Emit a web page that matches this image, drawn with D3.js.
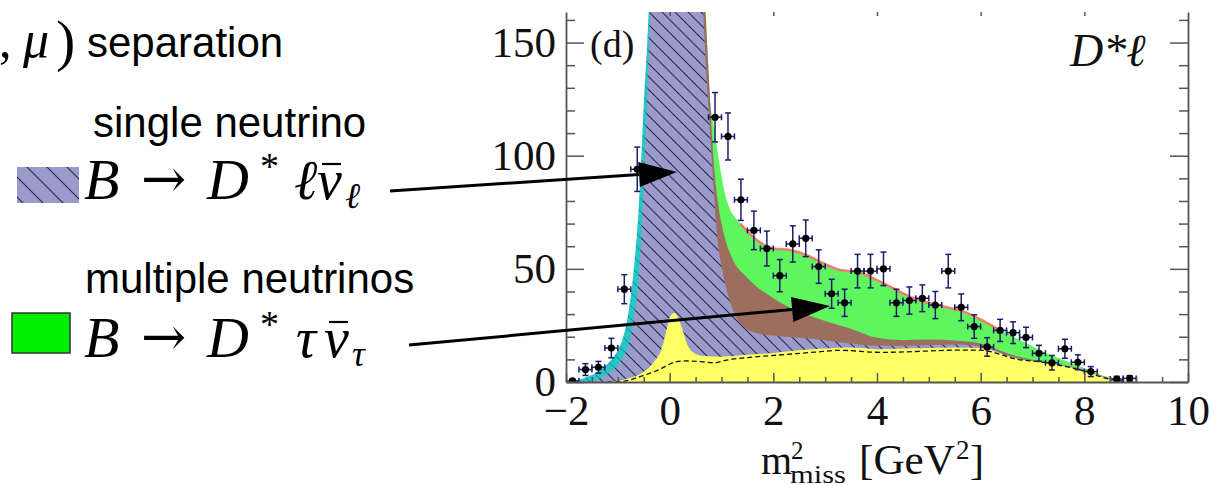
<!DOCTYPE html>
<html>
<head>
<meta charset="utf-8">
<script src="https://cdn.jsdelivr.net/npm/d3@7"></script>
<style>
  body { margin: 0; background: #fff; }
  svg { display: block; }
  .serif { font-family: "Liberation Serif", "Times New Roman", serif; }
  .sans { font-family: "Liberation Sans", Arial, sans-serif; }
</style>
</head>
<body>
<svg id="chart" width="1215" height="485"></svg>
<script>
// measured m^2_miss points (bin centres in GeV^2), events per bin and errors
const binCenters = [-1.875, -1.625, -1.375, -1.125, -0.875, -0.625, 0.875, 1.125, 1.375, 1.625,
  1.875, 2.125, 2.375, 2.625, 2.875, 3.125, 3.375, 3.625, 3.875, 4.125, 4.375, 4.625, 4.875,
  5.125, 5.375, 5.625, 5.875, 6.125, 6.375, 6.625, 6.875, 7.125, 7.375, 7.625, 7.875, 8.125,
  8.625, 8.875];
const counts = [0.5, 5.5, 6.5, 15, 41, 94, 117, 108.5, 80.5, 67, 59, 47, 61, 63.5, 51, 39, 35,
  49, 49, 50, 35, 36, 37, 34, 49, 33, 24.5, 15.5, 22.8, 21.8, 19.7, 12.7, 8.5, 14.7, 8.7, 4.6,
  1.3, 1.6];
const countErr = [0.7, 2.6, 2.6, 4.3, 6.4, 9.8, 10.9, 10.4, 9.1, 8.5, 7.7, 7.1, 8, 8.1, 7.4,
  6.4, 6, 7.4, 7.4, 7.4, 6, 6, 5.9, 6, 7.4, 5.9, 5.2, 4.1, 4.9, 4.8, 4.5, 3.5, 3.2, 4.2, 3.3,
  2.2, 1.2, 1.2];
const binHalfWidth = 0.125;

// stacked fit: cumulative top edge of each component [m2miss, events]
const greenTop = [[0.55, 240], [0.7, 163], [0.76, 130], [0.86, 112], [0.97, 95], [1.1, 80.4],
  [1.36, 70], [1.68, 62.7], [2.0, 59], [2.32, 58.3], [2.64, 56.1], [2.96, 52.5], [3.29, 49.5],
  [3.61, 48.7], [3.93, 45.8], [4.25, 42.1], [4.7, 37], [5.34, 33], [5.67, 31.1], [5.99, 27.7],
  [6.31, 23.7], [6.63, 20], [6.95, 16.3], [7.27, 12.7], [7.6, 9.7], [7.92, 6.8], [8.24, 3.8],
  [8.56, 1.6], [9.0, 0]];
const brownTop = [[0.55, 230], [0.69, 163], [0.75, 138], [0.84, 100], [0.94, 78], [1.03, 67],
  [1.2, 55], [1.5, 46], [2.0, 37], [2.5, 31], [3.0, 27], [3.5, 23.5], [4.0, 19.5], [4.5, 18.5],
  [5.0, 18.8], [5.5, 18.3], [6.0, 17], [6.2, 15.5], [6.6, 12], [7.0, 9.8], [7.5, 8], [8.0, 5.5],
  [8.5, 1.5], [9.0, 0]];
const cyanTop = [[-2, 0], [-1.8, 0.7], [-1.6, 2.2], [-1.4, 4.2], [-1.2, 8], [-1.0, 14],
  [-0.9, 19.5], [-0.8, 30], [-0.7, 48], [-0.6, 76], [-0.5, 122], [-0.4, 168], [-0.3, 260]];
const purpleTop = [[-1.75, 0], [-1.6, 0.2], [-1.4, 1.0], [-1.2, 3.5], [-1.0, 7.5], [-0.9, 11],
  [-0.8, 16], [-0.7, 27], [-0.6, 45], [-0.5, 88], [-0.4, 148], [-0.3, 230], [0, 400],
  [0.4, 260], [0.6, 190], [0.65, 163], [0.71, 135], [0.78, 110], [0.85, 85], [0.91, 66],
  [1.03, 48], [1.16, 36], [1.36, 26], [1.68, 21.5], [2.0, 20.5], [2.5, 19.5], [3.0, 18.5],
  [3.5, 17], [4.0, 16], [4.5, 16], [5.0, 16.4], [5.5, 16.6], [6.0, 15.8], [6.2, 14.6],
  [6.6, 11.2], [7.0, 9.4], [7.5, 7.7], [8.0, 5.2], [8.5, 1.4], [9.0, 0]];
const yellowTop = [[-1.3, 0], [-1.0, 0.4], [-0.8, 1.5], [-0.5, 4.5], [-0.3, 9], [-0.15, 15],
  [-0.05, 24], [0.0, 28.5], [0.08, 30.5], [0.15, 29], [0.25, 23], [0.35, 16], [0.45, 13.2],
  [0.65, 11.5], [1.0, 11.2], [1.5, 12], [2.0, 12.8], [2.5, 14], [3.0, 14.8], [3.5, 15.2],
  [4.0, 14.5], [4.5, 14.8], [5.0, 15], [5.5, 15.3], [6.0, 15], [6.2, 14], [6.6, 10.8],
  [7.0, 9.2], [7.5, 7.5], [8.0, 5], [8.5, 1.3], [9.0, 0]];
const dashedLine = [[-1.2, 0], [-0.9, 0.3], [-0.57, 2.4], [-0.2, 5.5], [0.1, 8.8], [0.3, 9.3],
  [0.6, 9.0], [0.85, 8.5], [1.1, 9.7], [1.5, 10.8], [2.1, 11.9], [2.8, 13.2], [3.3, 14],
  [4.06, 13.1], [5.0, 13.7], [5.5, 14.1], [6.0, 14.1], [6.2, 13.4], [6.63, 10.4], [7.27, 8.5],
  [7.92, 5.3], [8.56, 0.9], [8.94, 0]];

const xTicks = [-2, 0, 2, 4, 6, 8, 10];
const yTicks = [0, 50, 100, 150];

const svg = d3.select("#chart");
svg.append("rect").attr("width", 1215).attr("height", 485).attr("fill", "#fff");

const x = d3.scaleLinear().domain([-2, 10]).range([566, 1188]);
const y = d3.scaleLinear().domain([0, 163.5]).range([382, 12]);

const defs = svg.append("defs");
defs.append("clipPath").attr("id", "plot-clip")
  .append("rect").attr("x", 566).attr("y", 12).attr("width", 622).attr("height", 370);

// hatching for the single-neutrino component
function hatch(id, s, w) {
  defs.append("pattern").attr("id", id).attr("patternUnits", "userSpaceOnUse")
    .attr("width", s).attr("height", s)
    .append("path")
    .attr("d", `M0,0L${s},${s}M${-s/2},${s/2}L${s/2},${s*1.5}M${s/2},${-s/2}L${s*1.5},${s/2}`)
    .attr("stroke", "#2a2a4e").attr("stroke-width", w);
}
hatch("hatch", 13, 1.1);
hatch("hatch-legend", 20, 1.2);

const area = d3.area()
  .x(d => x(d[0]))
  .y0(y(0))
  .y1(d => y(d[1]))
  .curve(d3.curveMonotoneX);
const line = d3.line()
  .x(d => x(d[0]))
  .y(d => y(d[1]))
  .curve(d3.curveMonotoneX);

const plot = svg.append("g").attr("clip-path", "url(#plot-clip)");

plot.append("path").datum(greenTop).attr("d", area).attr("fill", "#5ef55e");
plot.append("path").datum(brownTop).attr("d", area).attr("fill", "#9b6e5d");
plot.append("path").datum(cyanTop).attr("d", area).attr("fill", "#25c8c8");
plot.append("path").datum(cyanTop).attr("d", area).attr("fill", "url(#hatch)").attr("opacity", 0.35);
plot.append("path").datum(purpleTop).attr("d", area).attr("fill", "#9a9acb");
plot.append("path").datum(purpleTop).attr("d", area).attr("fill", "url(#hatch)");
plot.append("path").datum(yellowTop).attr("d", area).attr("fill", "#ffff66");
plot.append("path").datum(dashedLine).attr("d", line)
  .attr("fill", "none").attr("stroke", "#111").attr("stroke-width", 1.3)
  .attr("stroke-dasharray", "5,3");
plot.append("path").datum(greenTop.filter(d => d[0] > 1.3 && d[0] < 6.6)).attr("d", line)
  .attr("fill", "none").attr("stroke", "#f07c6c").attr("stroke-width", 2.5);

// data points with error bars
const pts = binCenters.map((c, i) => ({ c, v: counts[i], e: countErr[i] }));
const bars = plot.append("g").attr("stroke", "#1c1c6b").attr("stroke-width", 1.5);
bars.selectAll(".ev").data(pts).join("line")
  .attr("x1", d => x(d.c)).attr("x2", d => x(d.c))
  .attr("y1", d => y(d.v - d.e)).attr("y2", d => y(d.v + d.e));
bars.selectAll(".eh").data(pts).join("line")
  .attr("x1", d => x(d.c - binHalfWidth)).attr("x2", d => x(d.c + binHalfWidth))
  .attr("y1", d => y(d.v)).attr("y2", d => y(d.v));
[-1, 1].forEach(s => {
  bars.selectAll(null).data(pts).join("line")
    .attr("x1", d => x(d.c) - 3).attr("x2", d => x(d.c) + 3)
    .attr("y1", d => y(d.v + s * d.e)).attr("y2", d => y(d.v + s * d.e));
  bars.selectAll(null).data(pts).join("line")
    .attr("x1", d => x(d.c + s * binHalfWidth)).attr("x2", d => x(d.c + s * binHalfWidth))
    .attr("y1", d => y(d.v) - 3).attr("y2", d => y(d.v) + 3);
});
plot.append("g").selectAll("circle").data(pts).join("circle")
  .attr("cx", d => x(d.c)).attr("cy", d => y(d.v)).attr("r", 3.6).attr("fill", "#000");

// axes
const xMinor = d3.range(-1.5, 10, 0.5).filter(v => v % 2 !== 0);
const yMinor = d3.range(10, 161, 10).filter(v => v % 50 !== 0);
const fmt = d3.format("d");

function styleAxis(g) {
  g.attr("color", "#555");
  g.selectAll("line").attr("stroke-width", 1.5);
  g.select(".domain").attr("stroke-width", 1.8);
  g.selectAll("text").attr("class", "serif").attr("font-size", 43).attr("fill", "#111");
}

svg.append("g").attr("transform", `translate(${x(-2)},0)`)
  .call(d3.axisLeft(y).tickValues(yTicks).tickSize(-18).tickSizeOuter(0).tickPadding(10).tickFormat(fmt))
  .call(styleAxis);
svg.append("g").attr("transform", `translate(${x(-2)},0)`)
  .call(d3.axisLeft(y).tickValues(yMinor).tickSize(-9).tickFormat(""))
  .call(g => g.select(".domain").remove()).call(styleAxis);
svg.append("g").attr("transform", `translate(${x(10)},0)`)
  .call(d3.axisRight(y).tickValues(yTicks).tickSize(-18).tickSizeOuter(0).tickFormat(""))
  .call(styleAxis);
svg.append("g").attr("transform", `translate(${x(10)},0)`)
  .call(d3.axisRight(y).tickValues(yMinor).tickSize(-9).tickFormat(""))
  .call(g => g.select(".domain").remove()).call(styleAxis);
svg.append("g").attr("transform", `translate(0,${y(0)})`)
  .call(d3.axisBottom(x).tickValues(xTicks).tickSize(-9).tickSizeOuter(0).tickPadding(12).tickFormat(fmt))
  .call(styleAxis);
svg.append("g").attr("transform", `translate(0,${y(0)})`)
  .call(d3.axisBottom(x).tickValues(xMinor).tickSize(-5).tickFormat(""))
  .call(g => g.select(".domain").remove()).call(styleAxis);
svg.append("g").attr("transform", `translate(0,${y(163.5)})`)
  .call(d3.axisTop(x).tickValues(xTicks.slice(1, -1)).tickSize(-4).tickFormat(""))
  .call(g => g.select(".domain").remove()).call(styleAxis);

// axis title
const title = svg.append("g").attr("class", "serif").attr("fill", "#111");
title.append("text").attr("x", 761).attr("y", 474).attr("font-size", 40).text("m");
title.append("text").attr("x", 791).attr("y", 459).attr("font-size", 25).text("2");
title.append("text").attr("x", 790).attr("y", 483).attr("font-size", 26)
  .attr("textLength", 56).attr("lengthAdjust", "spacingAndGlyphs").text("miss");
title.append("text").attr("x", 859).attr("y", 474).attr("font-size", 42)
  .attr("textLength", 96).attr("lengthAdjust", "spacingAndGlyphs").text("[GeV");
title.append("text").attr("x", 956).attr("y", 459).attr("font-size", 27).text("2");
title.append("text").attr("x", 970).attr("y", 474).attr("font-size", 42).text("]");

// panel labels
svg.append("text").attr("class", "serif").attr("x", 590).attr("y", 57)
  .attr("font-size", 38).attr("fill", "#111").text("(d)");
svg.append("text").attr("class", "serif").attr("x", 1070).attr("y", 66)
  .attr("font-size", 46).attr("font-style", "italic").attr("fill", "#111").text("D*ℓ");

// left-hand annotation
const note = svg.append("g").attr("fill", "#000");
note.append("text").attr("class", "serif").attr("x", -1).attr("y", 57).attr("font-size", 50).text(",");
note.append("text").attr("class", "serif").attr("x", 23).attr("y", 57).attr("font-size", 52)
  .attr("font-style", "italic").text("μ");
note.append("text").attr("class", "serif").attr("x", 56).attr("y", 60).attr("font-size", 58).text(")");
note.append("text").attr("class", "sans").attr("x", 87).attr("y", 57).attr("font-size", 42).text("separation");
note.append("text").attr("class", "sans").attr("x", 93).attr("y", 137).attr("font-size", 42).text("single neutrino");
note.append("text").attr("class", "sans").attr("x", 85).attr("y", 293).attr("font-size", 42).text("multiple neutrinos");

function formula(base, lep, sub, subX) {
  const f = note.append("g").attr("class", "serif");
  f.append("text").attr("x", 84).attr("y", base).attr("font-size", 58).attr("font-style", "italic").text("B");
  f.append("text").attr("x", 141).attr("y", base - 2).attr("font-size", 54)
    .style("font-family", "'DejaVu Serif', serif").attr("font-weight", 200).text("→");
  f.append("text").attr("x", 207).attr("y", base).attr("font-size", 58).attr("font-style", "italic").text("D");
  f.append("text").attr("x", 260).attr("y", base - 20).attr("font-size", 38).text("*");
  f.append("text").attr("x", lep[1]).attr("y", base).attr("font-size", 56).attr("font-style", "italic").text(lep[0]);
  f.append("text").attr("x", lep[2]).attr("y", base).attr("font-size", 56).attr("font-style", "italic").text("ν");
  f.append("line").attr("x1", lep[2] + 5).attr("x2", lep[2] + 24)
    .attr("y1", base - 35).attr("y2", base - 35).attr("stroke", "#000").attr("stroke-width", 2.2);
  f.append("text").attr("x", subX).attr("y", base + 9).attr("font-size", 36).attr("font-style", "italic").text(sub);
}
formula(199, ["ℓ", 294, 317], "ℓ", 345);
formula(357, ["τ", 296, 324], "τ", 352);

note.append("rect").attr("x", 17).attr("y", 167).attr("width", 62).attr("height", 36).attr("fill", "#9a9acb");
note.append("rect").attr("x", 17).attr("y", 167).attr("width", 62).attr("height", 36).attr("fill", "url(#hatch-legend)");
note.append("rect").attr("x", 12).attr("y", 313).attr("width", 58).attr("height", 40)
  .attr("fill", "#00ee00").attr("stroke", "#333").attr("stroke-width", 1.5);

// arrows from the labels into the plot
function arrow(x0, y0, x1, y1) {
  const len = Math.hypot(x1 - x0, y1 - y0);
  const ux = (x1 - x0) / len, uy = (y1 - y0) / len;
  const bx = x1 - 38 * ux, by = y1 - 38 * uy;
  svg.append("line").attr("x1", x0).attr("y1", y0).attr("x2", bx).attr("y2", by)
    .attr("stroke", "#000").attr("stroke-width", 3);
  svg.append("path")
    .attr("d", `M${x1},${y1}L${bx - 12.5 * uy},${by + 12.5 * ux}L${bx + 12.5 * uy},${by - 12.5 * ux}Z`)
    .attr("fill", "#000");
}
arrow(390, 191, 677, 172);
arrow(409, 345, 830, 306);
</script>
</body>
</html>
